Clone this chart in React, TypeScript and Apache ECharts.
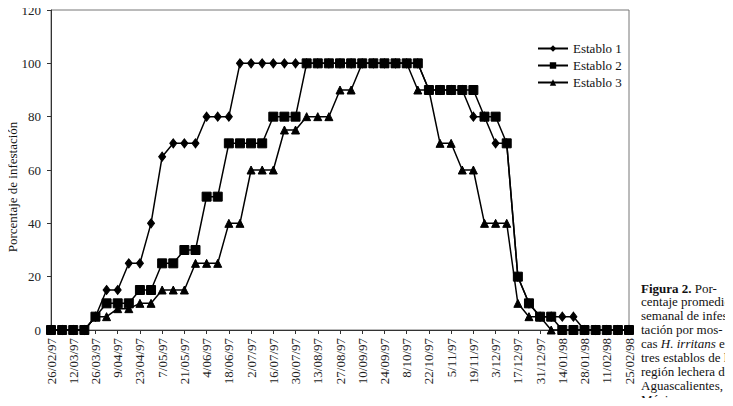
import React, { useEffect, useRef } from "react";
import * as echarts from "echarts";

const dates: string[] = [
  "26/02/97", "5/03/97", "12/03/97", "19/03/97", "26/03/97", "2/04/97", "9/04/97", "16/04/97",
  "23/04/97", "30/04/97", "7/05/97", "14/05/97", "21/05/97", "28/05/97", "4/06/97", "11/06/97",
  "18/06/97", "25/06/97", "2/07/97", "9/07/97", "16/07/97", "23/07/97", "30/07/97", "6/08/97",
  "13/08/97", "20/08/97", "27/08/97", "3/09/97", "10/09/97", "17/09/97", "24/09/97", "1/10/97",
  "8/10/97", "15/10/97", "22/10/97", "29/10/97", "5/11/97", "12/11/97", "19/11/97", "26/11/97",
  "3/12/97", "10/12/97", "17/12/97", "24/12/97", "31/12/97", "7/01/98", "14/01/98", "21/01/98",
  "28/01/98", "4/02/98", "11/02/98", "18/02/98", "25/02/98",
];

const establo1: number[] = [
  0, 0, 0, 0, 5, 15, 15, 25, 25, 40, 65, 70, 70, 70, 80, 80, 80,
  100, 100, 100, 100, 100, 100, 100, 100, 100, 100, 100, 100, 100, 100, 100, 100, 100,
  90, 90, 90, 90, 80, 80, 70, 70, 20, 10, 5, 5, 5, 5, 0, 0, 0, 0, 0,
];

const establo2: number[] = [
  0, 0, 0, 0, 5, 10, 10, 10, 15, 15, 25, 25, 30, 30, 50, 50, 70, 70, 70, 70, 80, 80, 80,
  100, 100, 100, 100, 100, 100, 100, 100, 100, 100, 100,
  90, 90, 90, 90, 90, 80, 80, 70, 20, 10, 5, 5, 0, 0, 0, 0, 0, 0, 0,
];

const establo3: number[] = [
  0, 0, 0, 0, 5, 5, 8, 8, 10, 10, 15, 15, 15, 25, 25, 25, 40, 40, 60, 60, 60, 75, 75,
  80, 80, 80, 90, 90, 100, 100, 100, 100, 100, 90, 90, 70, 70, 60, 60, 40, 40, 40,
  10, 5, 5, 0, 0, 0, 0, 0, 0, 0, 0,
];

const seriesNames: string[] = ["Establo 1", "Establo 2", "Establo 3"];
const yTicks = { min: 0, max: 120, interval: 20 };
const yTitle = "Porcentaje de infestación";
const captionLines: string[] = [
  "{b|Figura 2.} Por-",
  "centaje promedio",
  "semanal de infes-",
  "tación por mos-",
  "cas {i|H. irritans} en",
  "tres establos de la",
  "región lechera de",
  "Aguascalientes,",
  "México.",
];

const FONT = "Liberation Serif";

export default function App() {
  const ref = useRef<HTMLDivElement>(null);
  useEffect(() => {
    if (!ref.current) return;
    const chart = echarts.init(ref.current, null, { renderer: "svg" });
    const mk = (name: string, data: number[], symbol: string, size: number | number[]) => ({
      name,
      type: "line",
      data,
      symbol,
      symbolSize: size,
      showAllSymbol: true,
      lineStyle: { color: "#000", width: 1.5 },
      itemStyle: { color: "#000", borderColor: "#000" },
      emphasis: { disabled: true },
    });
    const graphics: any[] = [
      {
        type: "text",
        x: 12.5,
        y: 187,
        rotation: Math.PI / 2,
        style: {
          text: yTitle,
          fontFamily: FONT,
          fontSize: 13,
          fill: "#111",
          align: "center",
          verticalAlign: "middle",
        },
      },
    ];
    captionLines.forEach((line, k) => {
      graphics.push({
        type: "text",
        x: 641,
        y: 288 + k * 13.9,
        style: {
          text: line,
          fontFamily: FONT,
          fontSize: 13,
          fill: "#111",
          verticalAlign: "middle",
          rich: {
            b: { fontWeight: "bold", fontSize: 13, fontFamily: FONT, fill: "#111" },
            i: { fontStyle: "italic", fontSize: 13, fontFamily: FONT, fill: "#111" },
          },
        },
      });
    });
    chart.setOption({
      animation: false,
      backgroundColor: "#fff",
      grid: {
        left: 51,
        right: 104,
        top: 10,
        bottom: 76,
        show: true,
        borderColor: "#777",
        borderWidth: 1,
        backgroundColor: "transparent",
      },
      legend: {
        orient: "vertical",
        left: 532,
        top: 37,
        itemWidth: 30,
        itemHeight: 8,
        itemGap: 4,
        textStyle: { fontFamily: FONT, fontSize: 13, color: "#111" },
        data: seriesNames,
      },
      xAxis: {
        type: "category",
        data: dates,
        boundaryGap: false,
        axisLine: { lineStyle: { color: "#333", width: 1 } },
        axisTick: { show: true, interval: 1, length: 4, lineStyle: { color: "#333" } },
        axisLabel: {
          interval: 1,
          rotate: 90,
          margin: 8,
          fontFamily: FONT,
          fontSize: 13,
          color: "#222",
        },
        splitLine: { show: false },
      },
      yAxis: {
        type: "value",
        min: yTicks.min,
        max: yTicks.max,
        interval: yTicks.interval,
        axisLine: { show: true, lineStyle: { color: "#333", width: 1 } },
        axisTick: { show: true, length: 4, lineStyle: { color: "#333" } },
        axisLabel: { fontFamily: FONT, fontSize: 13, color: "#222", margin: 10 },
        splitLine: { show: false },
      },
      series: [
        mk(seriesNames[0], establo1, "diamond", [7, 9]),
        mk(seriesNames[1], establo2, "rect", 9),
        mk(seriesNames[2], establo3, "triangle", 8),
      ],
      graphic: graphics,
    });
    return () => chart.dispose();
  }, []);
  return <div ref={ref} style={{ width: 733, height: 406, margin: -8 }} />;
}
